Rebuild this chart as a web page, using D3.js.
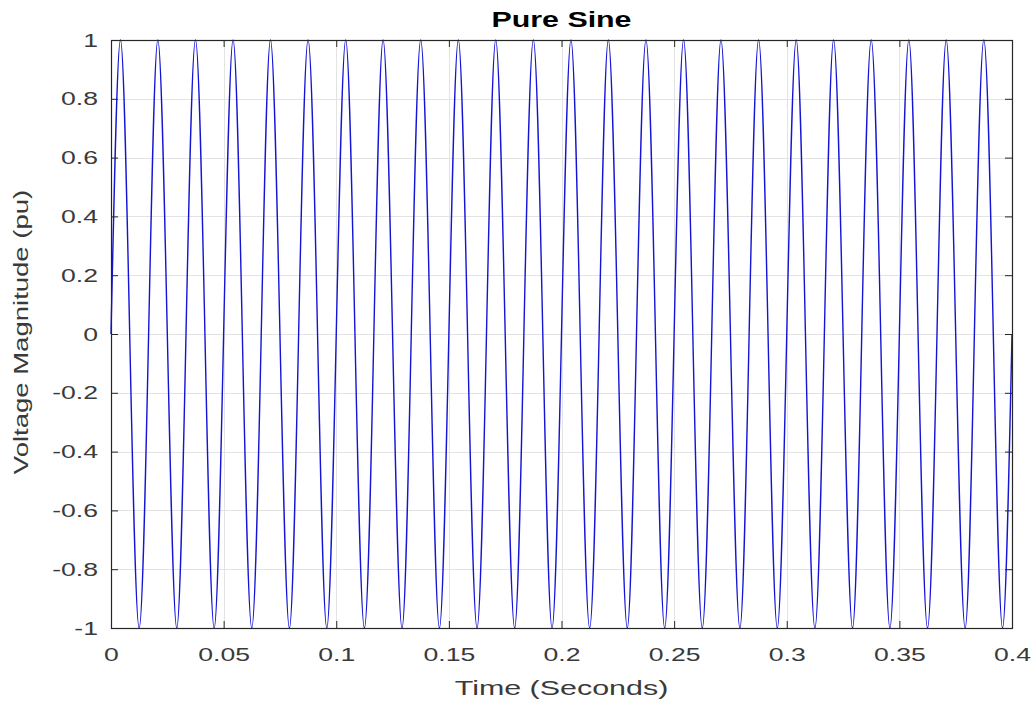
<!DOCTYPE html>
<html>
<head>
<meta charset="utf-8">
<script src="https://cdn.jsdelivr.net/npm/d3@7"></script>
<style>
  html, body { margin: 0; padding: 0; background: #ffffff; }
  svg { display: block; }
  text { font-family: "Liberation Sans", Arial, Helvetica, sans-serif; }
</style>
</head>
<body>
<svg id="chart" width="1036" height="706"></svg>
<script>
// ---- Data (quarter-period key points of the waveform) ----
const timeSeconds = [
  0.0000, 0.0042, 0.0083, 0.0125, 0.0167, 0.0208, 0.0250, 0.0292, 0.0333, 0.0375, 0.0417, 0.0458,
  0.0500, 0.0542, 0.0583, 0.0625, 0.0667, 0.0708, 0.0750, 0.0792, 0.0833, 0.0875, 0.0917, 0.0958,
  0.1000, 0.1042, 0.1083, 0.1125, 0.1167, 0.1208, 0.1250, 0.1292, 0.1333, 0.1375, 0.1417, 0.1458,
  0.1500, 0.1542, 0.1583, 0.1625, 0.1667, 0.1708, 0.1750, 0.1792, 0.1833, 0.1875, 0.1917, 0.1958,
  0.2000, 0.2042, 0.2083, 0.2125, 0.2167, 0.2208, 0.2250, 0.2292, 0.2333, 0.2375, 0.2417, 0.2458,
  0.2500, 0.2542, 0.2583, 0.2625, 0.2667, 0.2708, 0.2750, 0.2792, 0.2833, 0.2875, 0.2917, 0.2958,
  0.3000, 0.3042, 0.3083, 0.3125, 0.3167, 0.3208, 0.3250, 0.3292, 0.3333, 0.3375, 0.3417, 0.3458,
  0.3500, 0.3542, 0.3583, 0.3625, 0.3667, 0.3708, 0.3750, 0.3792, 0.3833, 0.3875, 0.3917, 0.3958,
  0.4000
];
const voltagePu = [
  0, 1, 0, -1, 0, 1, 0, -1, 0, 1, 0, -1,
  0, 1, 0, -1, 0, 1, 0, -1, 0, 1, 0, -1,
  0, 1, 0, -1, 0, 1, 0, -1, 0, 1, 0, -1,
  0, 1, 0, -1, 0, 1, 0, -1, 0, 1, 0, -1,
  0, 1, 0, -1, 0, 1, 0, -1, 0, 1, 0, -1,
  0, 1, 0, -1, 0, 1, 0, -1, 0, 1, 0, -1,
  0, 1, 0, -1, 0, 1, 0, -1, 0, 1, 0, -1,
  0, 1, 0, -1, 0, 1, 0, -1, 0, 1, 0, -1,
  0
];
const xTicks = [0, 0.05, 0.1, 0.15, 0.2, 0.25, 0.3, 0.35, 0.4];
const xTickLabels = ["0", "0.05", "0.1", "0.15", "0.2", "0.25", "0.3", "0.35", "0.4"];
const yTicks = [-1, -0.8, -0.6, -0.4, -0.2, 0, 0.2, 0.4, 0.6, 0.8, 1];
const yTickLabels = ["-1", "-0.8", "-0.6", "-0.4", "-0.2", "0", "0.2", "0.4", "0.6", "0.8", "1"];
const titleText = "Pure Sine";
const xLabelText = "Time (Seconds)";
const yLabelText = "Voltage Magnitude (pu)";

// ---- Layout ----
const plot = { left: 111, right: 1012, top: 40, bottom: 628 };
const SX = 1.4; // horizontal widening of glyphs seen in the reference
const svg = d3.select("#chart");

const x = d3.scaleLinear().domain([0, 0.4]).range([plot.left, plot.right]);
const y = d3.scaleLinear().domain([-1, 1]).range([plot.bottom, plot.top]);

// grid
const grid = svg.append("g").attr("stroke", "#e3e3e3").attr("stroke-width", 1);
grid.selectAll("line.gx").data(xTicks).join("line")
  .attr("x1", d => Math.round(x(d)) + 0.5).attr("x2", d => Math.round(x(d)) + 0.5)
  .attr("y1", plot.top).attr("y2", plot.bottom);
grid.selectAll("line.gy").data(yTicks).join("line")
  .attr("y1", d => Math.round(y(d)) + 0.5).attr("y2", d => Math.round(y(d)) + 0.5)
  .attr("x1", plot.left).attr("x2", plot.right);

// waveform
const pts = timeSeconds.map((t, i) => [t, voltagePu[i]]);
const line = d3.line().x(d => x(d[0])).y(d => y(d[1])).curve(d3.curveNatural);
svg.append("path").datum(pts)
  .attr("d", line)
  .attr("fill", "none")
  .attr("stroke", "#1414d6")
  .attr("stroke-width", 1.4)
  .attr("stroke-linejoin", "round");

// axes
const TICK = 7;
function styleAxis(g) {
  g.select(".domain").remove();
  g.selectAll(".tick line").attr("stroke", "#262626");
  g.selectAll("text").attr("fill", "#3a3a3a").attr("font-size", 19)
    .attr("font-family", "'Liberation Sans', Arial, sans-serif");
}
function widenText(g) {
  g.selectAll(".tick text").each(function () {
    const t = d3.select(this);
    const tx = +t.attr("x") || 0, ty = +t.attr("y") || 0;
    t.attr("x", null).attr("y", null)
      .attr("transform", `translate(${tx},${ty}) scale(${SX},1)`);
  });
}

const gx = svg.append("g").attr("transform", `translate(0,${plot.bottom})`)
  .call(d3.axisBottom(x).tickValues(xTicks).tickFormat((d, i) => xTickLabels[i])
    .tickSizeInner(-TICK).tickSizeOuter(0).tickPadding(20));
styleAxis(gx); widenText(gx);

const gy = svg.append("g").attr("transform", `translate(${plot.left},0)`)
  .call(d3.axisLeft(y).tickValues(yTicks).tickFormat((d, i) => yTickLabels[i])
    .tickSizeInner(-TICK).tickSizeOuter(0).tickPadding(13));
styleAxis(gy); widenText(gy);

const gt = svg.append("g").attr("transform", `translate(0,${plot.top})`)
  .call(d3.axisTop(x).tickValues(xTicks).tickFormat("").tickSizeInner(-TICK).tickSizeOuter(0));
styleAxis(gt);
const gr = svg.append("g").attr("transform", `translate(${plot.right},0)`)
  .call(d3.axisRight(y).tickValues(yTicks).tickFormat("").tickSizeInner(-TICK).tickSizeOuter(0));
styleAxis(gr);

// box
svg.append("rect")
  .attr("x", plot.left + 0.5).attr("y", plot.top + 0.5)
  .attr("width", plot.right - plot.left).attr("height", plot.bottom - plot.top)
  .attr("fill", "none").attr("stroke", "#262626").attr("stroke-width", 1.2);

// title
svg.append("text")
  .attr("transform", `translate(${(plot.left + plot.right) / 2},27) scale(1.38,1)`)
  .attr("text-anchor", "middle").attr("font-size", 22).attr("font-weight", "bold")
  .attr("fill", "#000").text(titleText);

// x label
svg.append("text")
  .attr("transform", `translate(${(plot.left + plot.right) / 2},695) scale(1.45,1)`)
  .attr("text-anchor", "middle").attr("font-size", 21)
  .attr("fill", "#3a3a3a").text(xLabelText);

// y label
svg.append("text")
  .attr("transform", `translate(28,332) rotate(-90) scale(1.31,1)`)
  .attr("text-anchor", "middle").attr("font-size", 21)
  .attr("fill", "#3a3a3a").text(yLabelText);
</script>
</body>
</html>
